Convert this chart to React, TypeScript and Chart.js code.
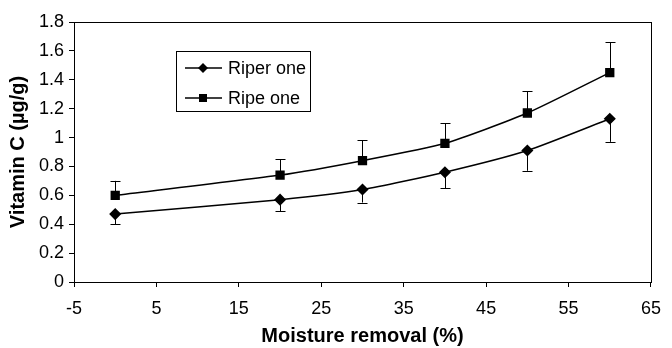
import React, { useEffect, useRef } from "react";
import { Chart, registerables } from "chart.js";

Chart.register(...registerables);

const xValues = [0, 20, 30, 40, 50, 60];
const riperValues = [0.47, 0.57, 0.64, 0.76, 0.91, 1.13];
const riperErrDown = [0.07, 0.08, 0.09, 0.11, 0.14, 0.16];
const ripeValues = [0.6, 0.74, 0.84, 0.96, 1.17, 1.45];
const ripeErrUp = [0.1, 0.11, 0.14, 0.14, 0.15, 0.21];
const seriesNames = ["Riper one", "Ripe one"];
const xTitle = "Moisture removal (%)";
const yTitle = "Vitamin C (µg/g)";

const FONT = "'Liberation Sans', Arial, sans-serif";

const frameAndErrors = {
  id: "frameAndErrors",
  afterDatasetsDraw(chart: any) {
    const ctx = chart.ctx;
    const ys = chart.scales.y;
    const a = chart.chartArea;
    ctx.save();
    ctx.strokeStyle = "#000";
    ctx.lineWidth = 1;
    ctx.strokeRect(Math.round(a.left) + 0.5, Math.round(a.top) + 0.5, Math.round(a.right - a.left), Math.round(a.bottom - a.top));
    const errs = [riperErrDown.map((e) => -e), ripeErrUp];
    chart.data.datasets.forEach((ds: any, di: number) => {
      const meta = chart.getDatasetMeta(di);
      meta.data.forEach((pt: any, i: number) => {
        const v = ds.data[i].y + errs[di][i];
        const y2 = ys.getPixelForValue(v);
        const x = Math.round(pt.x) + 0.5;
        ctx.beginPath();
        ctx.moveTo(x, pt.y);
        ctx.lineTo(x, y2);
        ctx.moveTo(x - 5, Math.round(y2) + 0.5);
        ctx.lineTo(x + 5, Math.round(y2) + 0.5);
        ctx.stroke();
      });
    });
    // legend
    const lx = a.left + 102;
    const ly = a.top + 29;
    const w = 134;
    const h = 60;
    ctx.fillStyle = "#fff";
    ctx.fillRect(lx, ly, w, h);
    ctx.strokeRect(Math.round(lx) + 0.5, Math.round(ly) + 0.5, w, h);
    ctx.font = `18px ${FONT}`;
    ctx.textBaseline = "middle";
    ctx.textAlign = "left";
    seriesNames.forEach((name, i) => {
      const cy = ly + 17 + i * 30;
      ctx.beginPath();
      ctx.lineWidth = 1.5;
      ctx.moveTo(lx + 9, cy);
      ctx.lineTo(lx + 46, cy);
      ctx.stroke();
      const cx = lx + 27;
      ctx.fillStyle = "#000";
      ctx.beginPath();
      if (i === 0) {
        ctx.moveTo(cx, cy - 5);
        ctx.lineTo(cx + 5, cy);
        ctx.lineTo(cx, cy + 5);
        ctx.lineTo(cx - 5, cy);
        ctx.closePath();
      } else {
        ctx.rect(cx - 4, cy - 4, 8, 8);
      }
      ctx.fill();
      ctx.fillText(name, lx + 52, cy + 1);
    });
    ctx.restore();
  },
};

export default function App() {
  const ref = useRef<HTMLCanvasElement | null>(null);
  useEffect(() => {
    if (!ref.current) return;
    const chart = new Chart(ref.current, {
      type: "line",
      data: {
        datasets: [
          {
            label: seriesNames[0],
            data: xValues.map((x, i) => ({ x, y: riperValues[i] })),
            borderColor: "#000",
            backgroundColor: "#000",
            borderWidth: 1.5,
            pointStyle: "rectRot",
            pointRadius: 5,
            tension: 0.2,
          },
          {
            label: seriesNames[1],
            data: xValues.map((x, i) => ({ x, y: ripeValues[i] })),
            borderColor: "#000",
            backgroundColor: "#000",
            borderWidth: 1.5,
            pointStyle: "rect",
            pointRadius: 5.5,
            tension: 0.2,
          },
        ],
      },
      options: {
        animation: false,
        responsive: false,
        maintainAspectRatio: false,
        layout: { padding: { left: 0, right: 14, top: 22, bottom: 0 } },
        plugins: { legend: { display: false }, tooltip: { enabled: false } },
        scales: {
          x: {
            type: "linear",
            min: -5,
            max: 65,
            ticks: { stepSize: 10, color: "#000", font: { family: FONT, size: 18 }, padding: 11, maxRotation: 0 },
            grid: { drawOnChartArea: false, drawTicks: true, tickLength: 5, color: "#000" },
            border: { display: true, color: "#000", width: 1 },
            title: { display: true, text: xTitle, color: "#000", font: { family: FONT, size: 20, weight: "bold", lineHeight: 1.2 }, padding: { top: 0, bottom: 0 } },
            afterFit: (s: any) => { s.height = 66; },
          },
          y: {
            min: 0,
            max: 1.8,
            ticks: { stepSize: 0.2, color: "#000", font: { family: FONT, size: 18 }, padding: 5, callback: (v: any) => String(Math.round(Number(v) * 10) / 10) },
            grid: { drawOnChartArea: false, drawTicks: true, tickLength: 5, color: "#000" },
            border: { display: true, color: "#000", width: 1 },
            title: { display: true, text: yTitle, color: "#000", font: { family: FONT, size: 20, weight: "bold", lineHeight: 1.2 }, padding: { top: 6, bottom: 0 } },
            afterFit: (s: any) => { s.width = 74; },
          },
        },
      },
      plugins: [frameAndErrors],
    } as any);
    return () => chart.destroy();
  }, []);
  return (
    <div style={{ position: "fixed", left: 0, top: 0, width: 672, height: 348, background: "#fff" }}>
      <canvas ref={ref} width={672} height={348} style={{ width: 672, height: 348, display: "block" }} />
    </div>
  );
}
